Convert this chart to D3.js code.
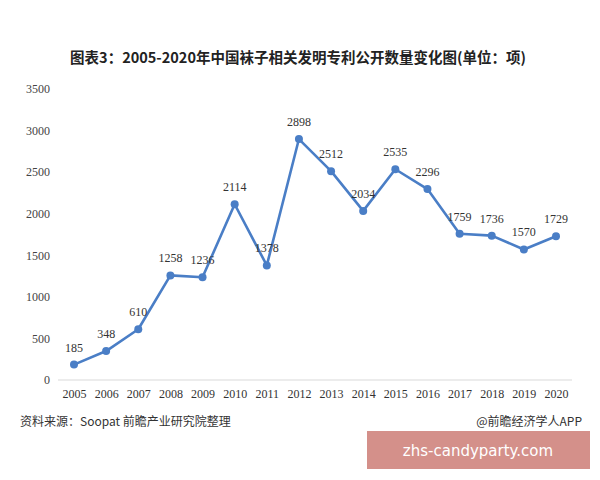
<!DOCTYPE html>
<html><head><meta charset="utf-8">
<script src="https://cdn.jsdelivr.net/npm/d3@7"></script>
<style>body{margin:0;background:#fff}svg{display:block}</style>
</head><body>
<script>
const years = ["2005","2006","2007","2008","2009","2010","2011","2012","2013","2014","2015","2016","2017","2018","2019","2020"];
const values = [185,348,610,1258,1236,2114,1378,2898,2512,2034,2535,2296,1759,1736,1570,1729];
const yTicks = [0,500,1000,1500,2000,2500,3000,3500];

const W=600,H=480;
const svg=d3.select("body").append("svg").attr("width",W).attr("height",H);
const x=d3.scalePoint().domain(years).range([74,556]);
const y=d3.scaleLinear().domain([0,3500]).range([380,89]);

svg.append("text").attr("x",298).attr("y",63).attr("text-anchor","middle")
  .attr("font-family","'Noto Sans CJK SC',sans-serif").attr("font-weight","bold").attr("font-size",14.5)
  .attr("fill","#222").text("图表3：2005-2020年中国袜子相关发明专利公开数量变化图(单位：项)");

// y axis labels
const yAxis=d3.axisLeft(y).tickValues(yTicks).tickFormat(d3.format("d")).tickSize(0).tickPadding(0);
const gy=svg.append("g").attr("transform","translate(50,0)").call(yAxis);
gy.select(".domain").remove();
gy.selectAll("text").attr("font-family","'Liberation Serif',serif").attr("font-size",12).attr("fill","#444");

// x axis
const xAxis=d3.axisBottom(x).tickSize(0).tickPadding(9);
const gx=svg.append("g").attr("transform","translate(0,380)").call(xAxis);
gx.select(".domain").attr("stroke","#d9d9d9").attr("d","M58,0H572");
gx.selectAll("text").attr("font-family","'Liberation Serif',serif").attr("font-size",12).attr("fill","#333");

const line=d3.line().x((d,i)=>x(years[i])).y(d=>y(d));
svg.append("path").datum(values).attr("d",line).attr("fill","none")
  .attr("stroke","#4a7ec6").attr("stroke-width",2.6).attr("stroke-linejoin","round");
svg.selectAll("circle.pt").data(values).join("circle").attr("class","pt")
  .attr("cx",(d,i)=>x(years[i])).attr("cy",d=>y(d)).attr("r",4).attr("fill","#4a7ec6");
svg.selectAll("text.lbl").data(values).join("text").attr("class","lbl")
  .attr("x",(d,i)=>x(years[i])).attr("y",d=>y(d)-13).attr("text-anchor","middle")
  .attr("font-family","'Liberation Serif',serif").attr("font-size",12).attr("fill","#333")
  .text(d=>d);

svg.append("text").attr("x",20).attr("y",426).attr("font-family","'Noto Sans CJK SC',sans-serif")
  .attr("font-size",12).attr("fill","#333").text("资料来源：Soopat 前瞻产业研究院整理");
svg.append("text").attr("x",582).attr("y",426).attr("text-anchor","end").attr("font-family","'Noto Sans CJK SC',sans-serif")
  .attr("font-size",12).attr("fill","#333").text("@前瞻经济学人APP");

svg.append("rect").attr("x",367).attr("y",431).attr("width",223).attr("height",38).attr("fill","#d4908a");
svg.append("text").attr("x",478).attr("y",456).attr("text-anchor","middle").attr("font-family","'DejaVu Sans',sans-serif")
  .attr("font-size",15).attr("fill","#fff").text("zhs-candyparty.com");
</script>
</body></html>
